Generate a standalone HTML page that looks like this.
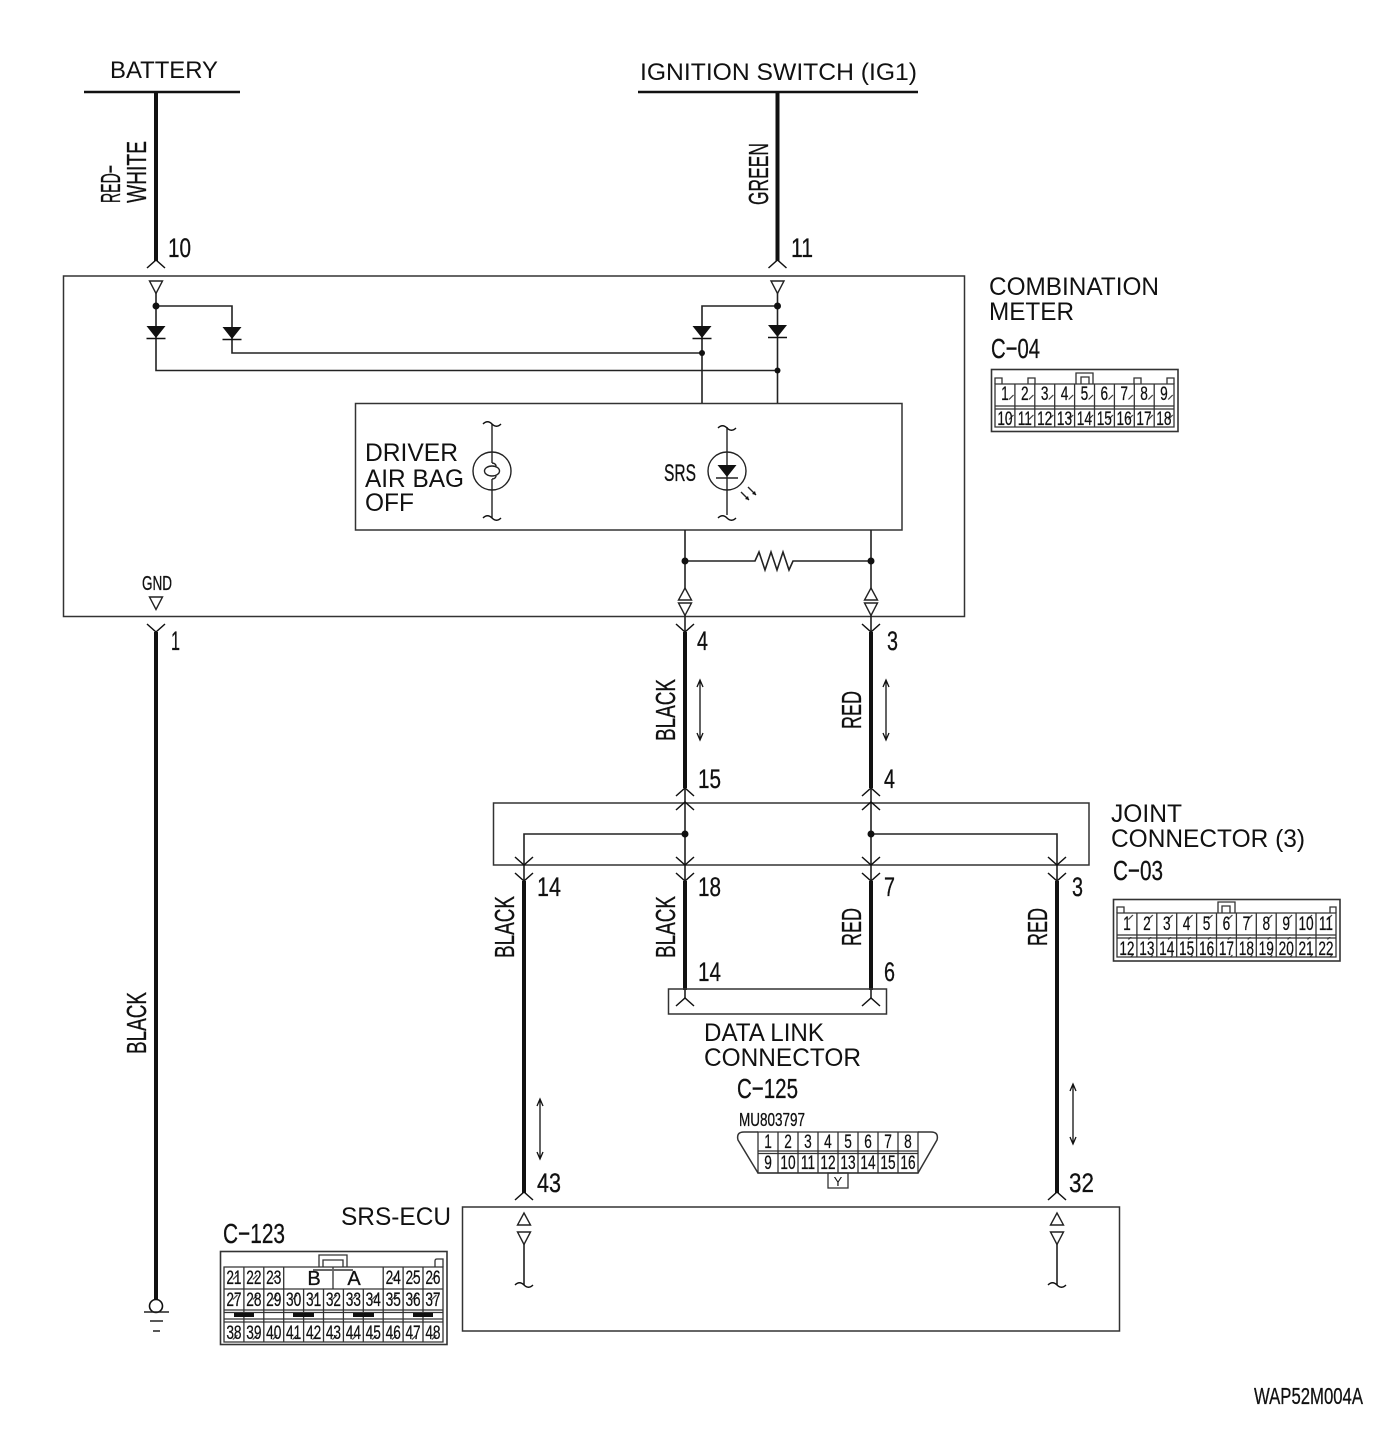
<!DOCTYPE html>
<html><head><meta charset="utf-8"><style>
html,body{margin:0;padding:0;background:#fff}
svg{display:block}
text{font-family:"Liberation Sans",sans-serif;fill:#111}
.n text{font-size:19px;text-anchor:middle;stroke:#111;stroke-width:.25px}
.c text,text.c{stroke:#111;stroke-width:.3px}
</style></head><body>
<svg width="1400" height="1432" viewBox="0 0 1400 1432" xmlns="http://www.w3.org/2000/svg">
<defs>
<path id="up" d="M-9 8L0 0L9 8" fill="none" stroke="#111" stroke-width="1.5"/>
<path id="dn" d="M-9 -8L0 0L9 -8" fill="none" stroke="#111" stroke-width="1.5"/>
<path id="tu" d="M0 0L6.5 12H-6.5Z" fill="#fff" stroke="#222" stroke-width="1.4"/>
<path id="td" d="M-6.5 0H6.5L0 12.500Z" fill="#fff" stroke="#222" stroke-width="1.4"/>
<g id="di"><path d="M-9.500 0H9.500L0 12Z" fill="#111"/><path d="M-9.500 12.500H9.500" stroke="#111" stroke-width="1.500"/></g>
<path id="sq" d="M-9 0c3-3 6-3 9 0s6 3 9 0" fill="none" stroke="#111" stroke-width="1.400"/>
<path id="da" d="M0 0V60M-3 7L0 0L3 7M-3 53L0 60L3 53" fill="none" stroke="#111" stroke-width="1.300"/>
<pattern id="t" patternUnits="userSpaceOnUse" width="19.9" height="20"><path d="M14 19.500L18.500 15" stroke="#333" stroke-width="1.200"/></pattern>
</defs>

<!-- top rails and labels -->
<path d="M84 92H240M638 92H918" stroke="#111" stroke-width="2.500" fill="none"/>
<text x="110" y="78" font-size="24" textLength="108" lengthAdjust="spacingAndGlyphs">BATTERY</text>
<text x="640" y="80" font-size="24" textLength="277" lengthAdjust="spacingAndGlyphs">IGNITION SWITCH (IG1)</text>
<g class="c" font-size="28">
<text transform="translate(120,203) rotate(-90)" textLength="38" lengthAdjust="spacingAndGlyphs">RED−</text>
<text transform="translate(146,203) rotate(-90)" textLength="62" lengthAdjust="spacingAndGlyphs">WHITE</text>
<text transform="translate(768,205) rotate(-90)" textLength="62" lengthAdjust="spacingAndGlyphs">GREEN</text>
</g>

<!-- thick wires -->
<path d="M156 92V261M777.500 92V261M156 632V1300M685 632V788M871 632V788M524 881V1193M685 881V990M871 881V990M1057 881V1193" stroke="#111" stroke-width="4" fill="none"/>

<!-- boxes -->
<g fill="none" stroke="#333" stroke-width="1.500">
<rect x="63.500" y="276" width="901" height="340.500"/>
<rect x="355.500" y="403.500" width="546.500" height="126.500"/>
<rect x="493.500" y="803" width="595.500" height="62"/>
<rect x="668.500" y="989" width="218" height="25"/>
<rect x="462.500" y="1207" width="657" height="124"/>
</g>

<!-- thin wiring inside meter -->
<g fill="none" stroke="#222" stroke-width="1.600">
<path d="M156 293V370.500H777.500"/>
<path d="M156 306H232V353H702"/>
<path d="M777.500 293V403"/>
<path d="M777.500 306H702V403"/>
<path d="M685 530V589M871 530V589"/>
<path d="M685 561H755L759 552L765 570L771 552L777 570L783 552L789 570L793 561H871"/>
<path d="M685 603V632M871 603V632"/>
<path d="M685 788V880M871 788V880M685 834H524V880M871 834H1057V880"/>
<path d="M685 989V998M871 989V998"/>
<path d="M524 1244V1285M1057 1244V1285"/>
</g>
<g fill="#111">
<circle cx="156" cy="306" r="3.500"/><circle cx="777.500" cy="306" r="3.500"/>
<circle cx="702" cy="353" r="3"/><circle cx="777.500" cy="370.500" r="3"/>
<circle cx="685" cy="561" r="3.500"/><circle cx="871" cy="561" r="3.500"/>
<circle cx="685" cy="834" r="3.500"/><circle cx="871" cy="834" r="3.500"/>
</g>

<!-- diodes -->
<use href="#di" x="156" y="326"/><use href="#di" x="232" y="327"/><use href="#di" x="702" y="326"/><use href="#di" x="777.500" y="325"/>

<!-- terminal triangles -->
<use href="#td" x="156" y="281"/><use href="#td" x="777.500" y="281"/><use href="#td" x="156" y="597"/>
<use href="#tu" x="685" y="588"/><use href="#td" x="685" y="603"/>
<use href="#tu" x="871" y="588"/><use href="#td" x="871" y="603"/>
<use href="#tu" x="524" y="1213"/><use href="#td" x="524" y="1232"/>
<use href="#tu" x="1057" y="1213"/><use href="#td" x="1057" y="1232"/>
<use href="#sq" x="524" y="1285"/><use href="#sq" x="1057" y="1285"/>

<!-- forks -->
<use href="#up" x="156" y="260"/><use href="#up" x="777.500" y="260"/>
<use href="#dn" x="156" y="632"/><use href="#dn" x="685" y="632"/><use href="#dn" x="871" y="632"/>
<use href="#up" x="685" y="788"/><use href="#up" x="871" y="788"/>
<use href="#up" x="685" y="802"/><use href="#up" x="871" y="802"/>
<use href="#dn" x="524" y="865"/><use href="#dn" x="685" y="865"/><use href="#dn" x="871" y="865"/><use href="#dn" x="1057" y="865"/>
<use href="#dn" x="524" y="881"/><use href="#dn" x="685" y="881"/><use href="#dn" x="871" y="881"/><use href="#dn" x="1057" y="881"/>
<use href="#up" x="685" y="998"/><use href="#up" x="871" y="998"/>
<use href="#up" x="524" y="1192"/><use href="#up" x="1057" y="1192"/>

<!-- lamp symbols -->
<g fill="none" stroke="#222" stroke-width="1.400">
<circle cx="492" cy="471" r="19"/>
<path d="M492 424V463M492 479V518"/>
<path d="M492 463c3 0 4 2 4 3M492 479c3 0 4-2 4-3"/>
<ellipse cx="492" cy="471" rx="7.500" ry="5"/>
<circle cx="727" cy="471" r="19"/>
<path d="M727 427V515"/>
<path d="M716 478H738"/>
<path d="M741 492L749 500M748 487L756 495"/>
</g>
<path d="M717.500 465H736.500L727 477Z" fill="#111"/>
<path d="M749 500L745 499L748 496ZM756 495L752 494L755 491Z" fill="#111"/>
<use href="#sq" x="492" y="424"/><use href="#sq" x="492" y="518"/>
<use href="#sq" x="727" y="428"/><use href="#sq" x="727" y="518"/>

<!-- ground -->
<circle cx="156" cy="1306" r="6.500" fill="#fff" stroke="#111" stroke-width="1.600"/>
<path d="M144 1312H169M150 1321H163M153 1331H160" stroke="#222" stroke-width="1.500" fill="none"/>

<!-- direction arrows -->
<use href="#da" x="700" y="680"/><use href="#da" x="886" y="680"/><use href="#da" x="540" y="1099"/><use href="#da" x="1073" y="1084"/>

<!-- pin numbers -->
<g class="c" font-size="27">
<text x="168" y="257" textLength="23" lengthAdjust="spacingAndGlyphs">10</text>
<text x="791" y="257" textLength="22" lengthAdjust="spacingAndGlyphs">11</text>
<text x="171" y="650" textLength="9" lengthAdjust="spacingAndGlyphs">1</text>
<text x="697" y="650" textLength="11" lengthAdjust="spacingAndGlyphs">4</text>
<text x="887" y="650" textLength="11" lengthAdjust="spacingAndGlyphs">3</text>
<text x="698" y="788" textLength="23" lengthAdjust="spacingAndGlyphs">15</text>
<text x="884" y="788" textLength="11" lengthAdjust="spacingAndGlyphs">4</text>
<text x="537" y="896" textLength="24" lengthAdjust="spacingAndGlyphs">14</text>
<text x="698" y="896" textLength="23" lengthAdjust="spacingAndGlyphs">18</text>
<text x="884" y="896" textLength="11" lengthAdjust="spacingAndGlyphs">7</text>
<text x="1072" y="896" textLength="11" lengthAdjust="spacingAndGlyphs">3</text>
<text x="698" y="981" textLength="23" lengthAdjust="spacingAndGlyphs">14</text>
<text x="884" y="981" textLength="11" lengthAdjust="spacingAndGlyphs">6</text>
<text x="537" y="1192" textLength="24" lengthAdjust="spacingAndGlyphs">43</text>
<text x="1069" y="1192" textLength="25" lengthAdjust="spacingAndGlyphs">32</text>
</g>

<!-- wire colour labels -->
<g class="c" font-size="28">
<text transform="translate(675,741) rotate(-90)" textLength="62" lengthAdjust="spacingAndGlyphs">BLACK</text>
<text transform="translate(861,729) rotate(-90)" textLength="38" lengthAdjust="spacingAndGlyphs">RED</text>
<text transform="translate(514,958) rotate(-90)" textLength="62" lengthAdjust="spacingAndGlyphs">BLACK</text>
<text transform="translate(675,958) rotate(-90)" textLength="62" lengthAdjust="spacingAndGlyphs">BLACK</text>
<text transform="translate(861,946) rotate(-90)" textLength="38" lengthAdjust="spacingAndGlyphs">RED</text>
<text transform="translate(1047,946) rotate(-90)" textLength="38" lengthAdjust="spacingAndGlyphs">RED</text>
<text transform="translate(146,1054) rotate(-90)" textLength="62" lengthAdjust="spacingAndGlyphs">BLACK</text>
</g>

<!-- component labels -->
<g font-size="25">
<text x="989" y="295" textLength="170" lengthAdjust="spacingAndGlyphs">COMBINATION</text>
<text x="989" y="320" textLength="85" lengthAdjust="spacingAndGlyphs">METER</text>
<text x="365" y="461" textLength="93" lengthAdjust="spacingAndGlyphs">DRIVER</text>
<text x="365" y="487" textLength="99" lengthAdjust="spacingAndGlyphs">AIR BAG</text>
<text x="365" y="511" textLength="49" lengthAdjust="spacingAndGlyphs">OFF</text>
<text x="1111" y="822" textLength="71" lengthAdjust="spacingAndGlyphs">JOINT</text>
<text x="1111" y="847" textLength="194" lengthAdjust="spacingAndGlyphs">CONNECTOR (3)</text>
<text x="704" y="1041" textLength="120" lengthAdjust="spacingAndGlyphs">DATA LINK</text>
<text x="704" y="1066" textLength="157" lengthAdjust="spacingAndGlyphs">CONNECTOR</text>
<text x="341" y="1225" textLength="110" lengthAdjust="spacingAndGlyphs">SRS-ECU</text>
</g>
<g class="c" font-size="28">
<text x="991" y="358" textLength="49" lengthAdjust="spacingAndGlyphs">C−04</text>
<text x="1113" y="880" textLength="50" lengthAdjust="spacingAndGlyphs">C−03</text>
<text x="737" y="1098" textLength="61" lengthAdjust="spacingAndGlyphs">C−125</text>
<text x="223" y="1243" textLength="62" lengthAdjust="spacingAndGlyphs">C−123</text>
</g>
<text class="c" x="664" y="481" font-size="24" textLength="32" lengthAdjust="spacingAndGlyphs">SRS</text>
<text class="c" x="142" y="590" font-size="20" textLength="30" lengthAdjust="spacingAndGlyphs">GND</text>
<text class="c" x="739" y="1126" font-size="18" textLength="66" lengthAdjust="spacingAndGlyphs">MU803797</text>
<text class="c" x="1254" y="1404" font-size="23" textLength="109" lengthAdjust="spacingAndGlyphs">WAP52M004A</text>

<!-- C-04 connector -->
<g fill="none" stroke="#333" stroke-width="1.300">
<rect x="991.500" y="369.500" width="186.500" height="62" stroke-width="1.600"/>
<path d="M995 384H1174V427H995ZM995 406H1174M995 409H1174"/>
<path d="M1014.900 384V427M1034.800 384V427M1054.700 384V427M1074.600 384V427M1094.500 384V427M1114.400 384V427M1134.300 384V427M1154.200 384V427"/>
<path d="M995 384V378H1002V384M1028 384V378H1035V384M1134 384V378H1141V384M1167 384V378H1174V384"/>
<path d="M1076 384V373H1093V384M1081 384V377H1089V384"/>
</g>
<rect x="995" y="384" width="179" height="20" fill="url(#t)"/>
<rect x="995" y="407" width="179" height="20" fill="url(#t)"/>
<g class="n" transform="translate(995,400) scale(.72,1)">
<text x="13.800">1</text><text x="41.400">2</text><text x="69">3</text><text x="96.600">4</text><text x="124.200">5</text><text x="151.800">6</text><text x="179.400">7</text><text x="207">8</text><text x="234.600">9</text>
</g>
<g class="n" transform="translate(995,425) scale(.72,1)">
<text x="13.800">10</text><text x="41.400">11</text><text x="69">12</text><text x="96.600">13</text><text x="124.200">14</text><text x="151.800">15</text><text x="179.400">16</text><text x="207">17</text><text x="234.600">18</text>
</g>

<!-- C-03 connector -->
<g fill="none" stroke="#333" stroke-width="1.300">
<rect x="1113.500" y="899.500" width="226.500" height="61.500" stroke-width="1.600"/>
<path d="M1117 913H1336V957H1117ZM1117 935H1336M1117 938H1336"/>
<path d="M1136.900 913V957M1156.800 913V957M1176.700 913V957M1196.600 913V957M1216.500 913V957M1236.400 913V957M1256.300 913V957M1276.200 913V957M1296.100 913V957M1316 913V957"/>
<path d="M1117 913V907H1124V913M1330 913V907H1336V913"/>
<path d="M1218 913V902H1235V913M1222 913V906H1230V913"/>
</g>
<rect x="1117" y="913" width="219" height="20" fill="url(#t)"/>
<rect x="1117" y="937" width="219" height="20" fill="url(#t)"/>
<g class="n" transform="translate(1117,930) scale(.72,1)">
<text x="13.800">1</text><text x="41.500">2</text><text x="69.100">3</text><text x="96.700">4</text><text x="124.400">5</text><text x="152">6</text><text x="179.700">7</text><text x="207.300">8</text><text x="235">9</text><text x="262.600">10</text><text x="290.200">11</text>
</g>
<g class="n" transform="translate(1117,955) scale(.72,1)">
<text x="13.800">12</text><text x="41.500">13</text><text x="69.100">14</text><text x="96.700">15</text><text x="124.400">16</text><text x="152">17</text><text x="179.700">18</text><text x="207.300">19</text><text x="235">20</text><text x="262.600">21</text><text x="290.200">22</text>
</g>

<!-- C-125 connector -->
<g fill="none" stroke="#333" stroke-width="1.300">
<path d="M758 1132H744Q736 1132 738 1140L758 1173H918L937 1140Q939 1132 931 1132H918" stroke-width="1.500"/>
<path d="M758 1132H918V1173H758ZM758 1151H918M758 1153.500H918"/>
<path d="M778 1132V1173M798 1132V1173M818 1132V1173M838 1132V1173M858 1132V1173M878 1132V1173M898 1132V1173"/>
<rect x="828" y="1173" width="20" height="15"/>
</g>
<g class="n" transform="translate(758,1148) scale(.72,1)">
<text x="13.900">1</text><text x="41.700">2</text><text x="69.400">3</text><text x="97.200">4</text><text x="125">5</text><text x="152.800">6</text><text x="180.600">7</text><text x="208.300">8</text>
</g>
<g class="n" transform="translate(758,1169) scale(.72,1)">
<text x="13.900">9</text><text x="41.700">10</text><text x="69.400">11</text><text x="97.200">12</text><text x="125">13</text><text x="152.800">14</text><text x="180.600">15</text><text x="208.300">16</text>
</g>
<text x="838" y="1186" font-size="13" text-anchor="middle">Y</text>

<!-- C-123 connector -->
<g fill="none" stroke="#333" stroke-width="1.300">
<rect x="220.500" y="1251.500" width="226.500" height="93" stroke-width="1.600"/>
<path d="M224 1267H443V1342H224ZM224 1289H443M224 1310H443M224 1312.500H443M224 1319H443M224 1322H443"/>
<path d="M243.900 1267V1342M263.800 1267V1342M283.700 1267V1342M303.600 1289V1342M323.500 1289V1342M343.400 1289V1342M363.300 1289V1342M383.200 1267V1342M403.100 1267V1342M423 1267V1342"/>
<path d="M333 1267V1289"/>
<path d="M319 1267V1255H347V1267M323 1267V1260H343V1267"/>
<path d="M435 1267V1261Q435 1259 437 1259H443V1267"/>
<path d="M313 1270H353" stroke="#666" stroke-width="2"/>
</g>
<path d="M234 1315H254M293 1315H314M353 1315H374M413 1315H433" stroke="#111" stroke-width="4" fill="none"/>
<rect x="224" y="1267" width="60" height="20" fill="url(#t)"/>
<rect x="383.200" y="1267" width="60" height="20" fill="url(#t)"/>
<rect x="224" y="1289" width="219" height="20" fill="url(#t)"/>
<rect x="224" y="1321" width="219" height="20" fill="url(#t)"/>
<g class="n" transform="translate(224,1284) scale(.72,1)">
<text x="13.800">21</text><text x="41.500">22</text><text x="69.100">23</text><text x="235">24</text><text x="262.600">25</text><text x="290.200">26</text>
</g>
<g class="n" transform="translate(224,1306) scale(.72,1)">
<text x="13.800">27</text><text x="41.500">28</text><text x="69.100">29</text><text x="96.700">30</text><text x="124.400">31</text><text x="152">32</text><text x="179.700">33</text><text x="207.300">34</text><text x="235">35</text><text x="262.600">36</text><text x="290.200">37</text>
</g>
<g class="n" transform="translate(224,1339) scale(.72,1)">
<text x="13.800">38</text><text x="41.500">39</text><text x="69.100">40</text><text x="96.700">41</text><text x="124.400">42</text><text x="152">43</text><text x="179.700">44</text><text x="207.300">45</text><text x="235">46</text><text x="262.600">47</text><text x="290.200">48</text>
</g>
<text class="c" x="314" y="1285" font-size="20" text-anchor="middle">B</text>
<text class="c" x="354" y="1285" font-size="20" text-anchor="middle">A</text>
</svg>
</body></html>
